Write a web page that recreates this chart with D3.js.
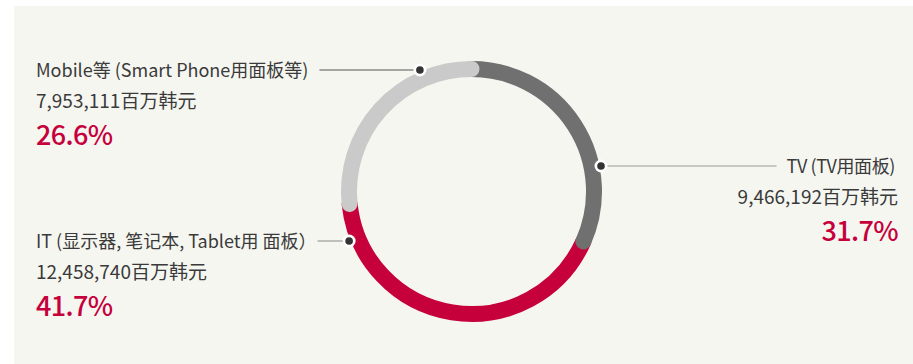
<!DOCTYPE html>
<html>
<head>
<meta charset="utf-8">
<script src="https://cdn.jsdelivr.net/npm/d3@7"></script>
<style>
  html, body { margin: 0; padding: 0; background: #ffffff; }
  svg { display: block; }
  text { font-family: "Noto Sans CJK SC", "Noto Sans", sans-serif; }
</style>
</head>
<body>
<svg id="chart" width="913" height="364"></svg>
<script>
// ---- data ----
const categories = ["TV (TV用面板)", "IT (显示器, 笔记本, Tablet用 面板）", "Mobile等 (Smart Phone用面板等)"];
const values = [9466192, 12458740, 7953111];
const valueLabels = ["9,466,192百万韩元", "12,458,740百万韩元", "7,953,111百万韩元"];
const percentLabels = ["31.7%", "41.7%", "26.6%"];
const colors = ["#707070", "#c5003b", "#c9cac9"];

// ---- layout ----
const W = 913, H = 364;
const cx = 471.5, cy = 191.5;
const rMid = 122.5, ringWidth = 16, rDot = 132;

const svg = d3.select("#chart");
svg.append("rect").attr("x", 14).attr("y", 6).attr("width", W - 14).attr("height", H - 6).attr("fill", "#f6f6f1");

const pie = d3.pie().sort(null).value(d => d)(values);
const g = svg.append("g");

// draw order: IT (red) first, TV, then Mobile on top
[1, 0, 2].forEach(i => {
  const a = pie[i];
  const p = d3.path();
  p.arc(cx, cy, rMid, a.startAngle - Math.PI / 2, a.endAngle - Math.PI / 2, false);
  g.append("path")
    .attr("d", p.toString())
    .attr("fill", "none")
    .attr("stroke", colors[i])
    .attr("stroke-width", ringWidth)
    .attr("stroke-linecap", "round");
});

const labelLayout = [
  { x: 895, y: 173, anchor: "end", side: 1, line: "#9a9a9a", gap: 10 },
  { x: 36, y: 248, anchor: "start", side: -1, line: "#888888", gap: 1 },
  { x: 36, y: 77, anchor: "start", side: -1, line: "#555555", gap: 11 }
];

categories.forEach((cat, i) => {
  const L = labelLayout[i];
  const t1 = svg.append("text").attr("x", L.x).attr("y", L.y).attr("text-anchor", L.anchor)
    .attr("font-size", 18).attr("letter-spacing", L.anchor === "end" ? -0.4 : 0)
    .attr("fill", "#3a3a3a").text(cat);
  svg.append("text").attr("x", L.anchor === "end" ? 898 : L.x).attr("y", L.y + 31).attr("text-anchor", L.anchor)
    .attr("font-size", 19).attr("fill", "#3a3a3a").text(valueLabels[i]);
  svg.append("text").attr("x", L.anchor === "end" ? 898 : L.x).attr("y", L.y + 68).attr("text-anchor", L.anchor)
    .attr("font-size", 27).attr("letter-spacing", -0.6).attr("font-weight", 500).attr("fill", "#c5003b").text(percentLabels[i]);

  const ly = L.y - 7;
  const dy = ly - cy;
  const dx = Math.sqrt(rDot * rDot - dy * dy) * L.side;
  const dotX = cx + dx;
  const bb = t1.node().getBBox();
  const lineEnd = L.anchor === "start" ? bb.x + bb.width + L.gap : bb.x - L.gap;
  svg.append("line").attr("x1", lineEnd).attr("x2", dotX).attr("y1", ly).attr("y2", ly)
    .attr("stroke", L.line).attr("stroke-width", 1.2);
  svg.append("circle").attr("cx", dotX).attr("cy", ly).attr("r", 6.5).attr("fill", "#ffffff");
  svg.append("circle").attr("cx", dotX).attr("cy", ly).attr("r", 3.8).attr("fill", "#333333");
});
</script>
</body>
</html>
